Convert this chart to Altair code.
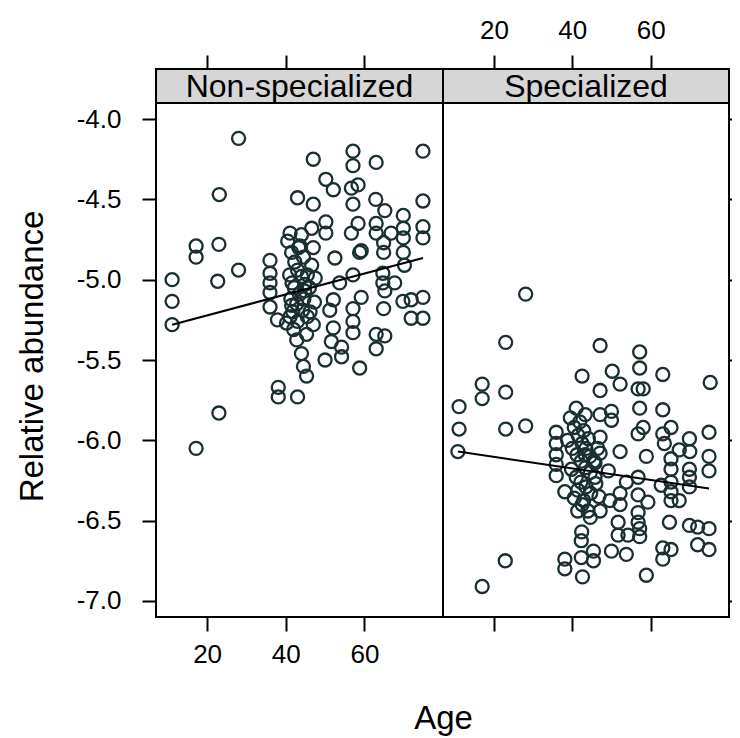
import altair as alt
import pandas as pd

# ---------------- data ----------------
panels = ["Non-specialized", "Specialized"]
x_ticks = [20, 40, 60]
y_ticks = [-4.0, -4.5, -5.0, -5.5, -6.0, -6.5, -7.0]

nonspec_age = [
    28.0, 23.1, 43.0, 17.2, 23.0, 17.2, 41.1, 28.0, 11.1, 22.7, 11.1, 11.1,
    36.0, 36.0, 36.0, 36.0, 36.0, 37.9, 38.1, 38.1, 23.0, 17.2,
    41.5, 41.1, 42.0, 42.8, 43.0,
    57.1, 74.9, 47.0, 57.1, 63.0, 50.2, 52.1, 56.7, 58.4, 47.0, 57.1, 62.9, 65.2,
    74.9, 69.9, 50.2, 50.2, 46.6, 58.4, 56.7, 63.0, 63.0, 66.8, 69.9, 69.9, 74.9,
    74.9, 64.9, 59.2, 44.0, 47.0, 43.6,
    52.5, 58.8, 64.9, 69.9, 46.6, 70.2, 57.1, 64.7, 64.7, 67.7, 53.7, 65.2, 59.2,
    52.1, 51.2, 57.1, 64.9, 69.8, 71.9, 74.9, 71.9, 74.9, 57.1, 57.1, 47.0, 52.1,
    45.3, 51.6, 63.0, 65.2, 63.0, 54.2, 50.0, 54.2, 58.8, 44.0, 44.5, 45.3,
    40.5, 41.5, 42.3, 43.0, 44.0, 44.8, 41.0, 42.2, 43.5, 44.6, 41.3, 42.8, 44.3,
    45.5, 41.8, 43.0, 40.2, 44.8, 45.5, 44.5, 41.6, 43.3, 46.0, 47.3, 46.2, 47.5,
]
nonspec_val = [
    -4.12, -4.47, -4.49, -4.79, -4.78, -4.86, -4.71, -4.94, -5.00, -5.01, -5.135, -5.28,
    -4.88, -4.96, -5.02, -5.08, -5.17, -5.25, -5.67, -5.73, -5.83, -6.05,
    -5.16, -5.23, -5.31, -5.375, -5.73,
    -4.20, -4.20, -4.25, -4.29, -4.27, -4.375, -4.44, -4.43, -4.41, -4.53, -4.53, -4.50, -4.57,
    -4.51, -4.60, -4.64, -4.71, -4.68, -4.65, -4.71, -4.65, -4.71, -4.71, -4.68, -4.74, -4.67,
    -4.74, -4.77, -4.82, -4.72, -4.80, -4.79,
    -4.865, -4.83, -4.83, -4.83, -4.91, -4.91, -4.97, -4.96, -5.02, -5.02, -5.02, -5.07, -5.11,
    -5.125, -5.19, -5.18, -5.18, -5.135, -5.125, -5.11, -5.24, -5.24, -5.26, -5.33, -5.28, -5.30,
    -5.34, -5.385, -5.34, -5.35, -5.43, -5.42, -5.50, -5.48, -5.55, -5.46, -5.54, -5.60,
    -4.76, -4.83, -4.89, -4.94, -4.98, -5.03, -4.97, -5.05, -5.09, -5.12, -5.12, -5.15, -5.19,
    -5.23, -5.20, -5.26, -5.27, -5.07, -4.97, -4.86, -5.02, -4.80, -5.05, -5.14, -5.20, -4.99,
]

spec_age = [
    28.1, 23.0, 17.0, 17.0, 23.0, 11.1, 11.1, 23.0, 28.1, 35.9, 35.9, 41.0, 41.9, 10.8,
    35.9, 35.9, 35.9, 38.1, 22.9, 17.0, 38.1, 38.1, 42.3, 42.3, 42.6, 41.4, 41.4, 42.4,
    47.1, 57.2, 57.2, 50.2, 42.5, 63.1, 75.2, 52.2, 47.1, 56.8, 58.1, 57.2, 63.1, 50.0,
    50.0, 47.1, 43.3, 58.1, 56.8, 65.2, 63.1, 63.5, 69.9, 74.9, 67.3, 52.2, 58.9, 47.1,
    42.9, 44.1, 47.1, 74.9, 70.0,
    43.3, 65.2, 69.9, 74.9, 65.2, 69.9, 69.9, 65.2, 65.2, 65.2, 67.3, 56.8, 53.8, 62.7,
    56.8, 59.3, 52.2, 52.2, 49.6, 47.1, 44.6, 56.8, 56.8, 57.2, 57.2, 51.7, 51.7, 54.2,
    64.8, 69.9, 72.0, 74.9, 72.0, 74.9, 63.1, 65.2, 63.1, 50.0, 53.8, 45.4, 45.4, 58.9,
    45.8, 42.9, 49.2,
    39.5, 40.5, 41.5, 42.5, 43.5, 44.5, 45.5, 40.0, 41.2, 42.3, 43.4, 44.6, 45.8, 39.8,
    41.0, 42.2, 43.5, 44.7, 46.0, 40.5, 42.5, 44.0, 46.5, 38.8, 46.8,
]
spec_val = [
    -5.09, -5.39, -5.65, -5.74, -5.70, -5.79, -5.93, -5.93, -5.91, -5.95, -6.02, -5.80, -5.885, -6.07,
    -6.09, -6.15, -6.22, -6.32, -6.75, -6.91, -6.74, -6.80, -6.625, -6.73, -6.85, -6.44, -6.31, -6.57,
    -5.41, -5.45, -5.55, -5.57, -5.60, -5.59, -5.64, -5.65, -5.69, -5.68, -5.68, -5.80, -5.81, -5.82,
    -5.875, -5.84, -5.84, -5.92, -5.96, -5.92, -5.96, -6.02, -5.99, -5.95, -6.06, -6.07, -6.10, -6.08,
    -5.94, -5.99, -5.98, -6.10, -6.07,
    -6.09, -6.115, -6.18, -6.19, -6.18, -6.23, -6.29, -6.26, -6.32, -6.375, -6.375, -6.23, -6.26, -6.28,
    -6.34, -6.385, -6.33, -6.40, -6.375, -6.44, -6.48, -6.45, -6.51, -6.55, -6.60, -6.51, -6.59, -6.59,
    -6.51, -6.53, -6.54, -6.55, -6.65, -6.68, -6.67, -6.68, -6.74, -6.69, -6.71, -6.69, -6.75, -6.84,
    -6.23, -6.375, -6.19,
    -5.86, -5.92, -5.97, -6.02, -6.05, -6.10, -6.13, -6.05, -6.09, -6.13, -6.17, -6.20, -6.14, -6.18,
    -6.23, -6.26, -6.29, -6.33, -6.27, -6.36, -6.40, -6.44, -6.05, -6.00, -6.35,
]

# fitted regression lines (end points)
fit_nonspec_age = [11.1, 74.9]
fit_nonspec_val = [-5.28, -4.865]
fit_spec_age = [10.8, 74.9]
fit_spec_val = [-6.07, -6.30]

# ---------------- chart ----------------
FONT = "Liberation Sans"
X_DOMAIN = [7.0, 80.0]
Y_DOMAIN = [-7.1, -3.9]
PANEL_H = 514
STRIP_H = 34
PT_COLOR = "#1a2f32"
Y_LABEL_EXPR = "(datum.value < 0 ? '-' : '') + format(abs(datum.value), '.1f')"


def panel(title, ages, vals, fa, fv, width, first):
    pts = pd.DataFrame({"Age": ages, "val": vals})
    fit = pd.DataFrame({"Age": fa, "val": fv})
    xs = alt.Scale(domain=X_DOMAIN, nice=False, zero=False)
    ys = alt.Scale(domain=Y_DOMAIN, nice=False, zero=False)

    common = dict(grid=False, domain=False, tickColor="black", tickWidth=2,
                  tickSize=14, labelFont=FONT, labelFontSize=26,
                  labelColor="black", titleFont=FONT, titleFontSize=33,
                  titleColor="black", titleFontWeight="normal")
    if first:
        bottom_axis = alt.Axis(orient="bottom", values=x_ticks, labels=True,
                               labelPadding=10, title="Age",
                               titleX=width, titleY=101, titleAlign="center",
                               titleBaseline="middle", **common)
        y_axis = alt.Axis(orient="left", values=y_ticks, labels=True,
                          labelExpr=Y_LABEL_EXPR, labelPadding=21,
                          title="Relative abundance", titleX=-124, titleY=253,
                          titleAlign="center", titleBaseline="middle",
                          titleAngle=270, **common)
    else:
        bottom_axis = alt.Axis(orient="bottom", values=x_ticks, labels=False,
                               title=None, **common)
        y_axis = alt.Axis(orient="right", values=y_ticks, labels=False,
                          title=None, **common)
    top_axis = alt.Axis(orient="top", values=x_ticks, labels=not first,
                        offset=STRIP_H, labelPadding=12, title=None, **common)

    points = alt.Chart(pts).mark_point(
        shape="circle", filled=False, size=170, strokeWidth=2.3,
        color=PT_COLOR, opacity=1,
    ).encode(
        x=alt.X("Age:Q", scale=xs, axis=bottom_axis),
        y=alt.Y("val:Q", scale=ys, axis=y_axis),
    )
    line = alt.Chart(fit).mark_line(color="black", strokeWidth=2).encode(
        x=alt.X("Age:Q", scale=xs, axis=top_axis),
        y=alt.Y("val:Q", scale=ys, axis=y_axis),
    )
    strip_df = pd.DataFrame({"label": [title]})
    strip = alt.Chart(strip_df).mark_rect(
        fill="#d6d6d6", stroke="black", strokeWidth=2
    ).encode(
        x=alt.value(0), x2=alt.value(width),
        y=alt.value(-STRIP_H), y2=alt.value(0),
    )
    text = alt.Chart(strip_df).mark_text(
        font=FONT, fontSize=32, color="black", baseline="middle", align="center"
    ).encode(
        text="label:N", x=alt.value(width / 2), y=alt.value(-STRIP_H / 2 + 1),
    )
    return (
        alt.layer(points, line, strip, text)
        .resolve_axis(x="independent")
        .properties(width=width, height=PANEL_H)
    )


left = panel(panels[0], nonspec_age, nonspec_val, fit_nonspec_age, fit_nonspec_val, 287, True)
right = panel(panels[1], spec_age, spec_val, fit_spec_age, fit_spec_val, 286, False)

chart = (
    alt.hconcat(left, right, spacing=0, bounds="flush")
    .configure(background="white",
               padding={"left": 7, "top": 8, "right": -13, "bottom": 3})
    .configure_view(stroke="black", strokeWidth=2)
)

chart.save("out.html", embed_options={"renderer": "svg", "actions": False})
